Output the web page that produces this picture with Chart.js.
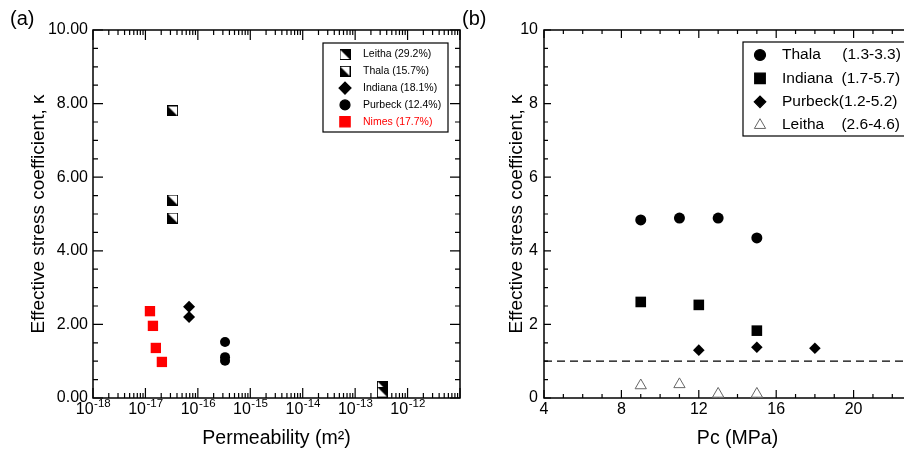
<!DOCTYPE html>
<html><head><meta charset="utf-8">
<script src="https://cdn.jsdelivr.net/npm/chart.js@4/dist/chart.umd.min.js"></script>
<style>
html,body{margin:0;padding:0;background:#fff;overflow:hidden;}
#wrap{position:relative;width:904px;height:454px;overflow:hidden;}
canvas{position:absolute;left:0;top:0;}
</style></head><body>
<div id="wrap"><canvas id="ca" width="904" height="454"></canvas><canvas id="cb" width="940" height="454"></canvas></div>
<script>
// ---------- panel (a) data ----------
const permLeitha = [3.3e-13, 3.3e-13];
const kLeitha = [0.32, 0.16];
const permThala = [3.3e-17, 3.3e-17, 3.3e-17];
const kThala = [7.80, 5.38, 4.89];
const permIndiana = [6.8e-17, 6.8e-17];
const kIndiana = [2.48, 2.20];
const permPurbeck = [3.3e-16, 3.3e-16, 3.3e-16];
const kPurbeck = [1.52, 1.11, 1.01];
const permNimes = [1.22e-17, 1.39e-17, 1.58e-17, 2.06e-17];
const kNimes = [2.36, 1.96, 1.36, 0.98];
const legendA = ['Leitha (29.2%)', 'Thala (15.7%)', 'Indiana (18.1%)', 'Purbeck (12.4%)', 'Nimes (17.7%)'];
const xExpA = [-18, -17, -16, -15, -14, -13, -12];
const yTicksA = [0, 2, 4, 6, 8, 10];

// ---------- panel (b) data ----------
const pcThala = [9, 11, 13, 15];
const kThalaB = [4.84, 4.89, 4.89, 4.35];
const pcIndiana = [9, 12, 15];
const kIndianaB = [2.61, 2.53, 1.83];
const pcPurbeck = [12, 15, 18];
const kPurbeckB = [1.30, 1.38, 1.35];
const pcLeitha = [9, 11, 13, 15];
const kLeithaB = [0.34, 0.37, 0.11, 0.11];
const legendB = ['Thala     (1.3-3.3)', 'Indiana  (1.7-5.7)', 'Purbeck(1.2-5.2)', 'Leitha    (2.6-4.6)'];
const refPc = [4, 24];
const refK = [1, 1];
const xTicksB = [4, 8, 12, 16, 20];
const yTicksB = [0, 2, 4, 6, 8, 10];

const FONT = '"Liberation Sans", Arial, Helvetica, sans-serif';
Chart.defaults.font.family = FONT;
Chart.defaults.color = '#000';

function pts(xs, ys) { return xs.map((v, i) => ({x: v, y: ys[i]})); }

function halfSquare(kind) {
  const s = 11, c = document.createElement('canvas');
  c.width = s; c.height = s;
  const g = c.getContext('2d');
  g.fillStyle = '#fff'; g.fillRect(0, 0, s, s);
  g.fillStyle = '#000'; g.beginPath();
  if (kind === 'ur') { g.moveTo(0, 0); g.lineTo(s, 0); g.lineTo(s, s); }
  else { g.moveTo(0, 0); g.lineTo(s, s); g.lineTo(0, s); }
  g.closePath(); g.fill();
  g.strokeStyle = '#000'; g.lineWidth = 1; g.strokeRect(0.5, 0.5, s - 1, s - 1);
  return c;
}
const imgLeitha = halfSquare('ur');
const imgThala = halfSquare('ll');

function drawMarker(ctx, ds, x, y) {
  ctx.save();
  ctx.fillStyle = ds.pointBackgroundColor || ds.backgroundColor || '#000';
  ctx.strokeStyle = ds.pointBorderColor || ds.borderColor || '#000';
  ctx.lineWidth = ds.pointBorderWidth !== undefined ? ds.pointBorderWidth : 1;
  const opts = {pointStyle: ds.pointStyle, radius: ds.pointRadius, rotation: 0, borderWidth: ctx.lineWidth};
  Chart.helpers.drawPoint(ctx, opts, x, y);
  ctx.restore();
}

const frameTicks = {
  id: 'frameTicks',
  beforeDatasetsDraw(chart, args, o) {
    const {ctx, chartArea: a, scales: {x, y}} = chart;
    ctx.save();
    ctx.strokeStyle = '#000';
    ctx.lineWidth = 1.2;
    ctx.beginPath();
    const tx = (v, len) => { const p = x.getPixelForValue(v); ctx.moveTo(p, a.bottom); ctx.lineTo(p, a.bottom - len); ctx.moveTo(p, a.top); ctx.lineTo(p, a.top + len); };
    const ty = (v, len) => { const p = y.getPixelForValue(v); ctx.moveTo(a.left, p); ctx.lineTo(a.left + len, p); ctx.moveTo(a.right, p); ctx.lineTo(a.right - len, p); };
    o.xMajor.forEach(v => tx(v, o.xMajLen));
    o.xMinor.forEach(v => tx(v, o.xMinLen));
    o.yMajor.forEach(v => ty(v, o.yMajLen));
    o.yMinor.forEach(v => ty(v, o.yMinLen));
    ctx.stroke();
    ctx.lineWidth = 1.5;
    ctx.strokeRect(a.left, a.top, a.right - a.left, a.bottom - a.top);
    ctx.restore();
  }
};

const boxLegend = {
  id: 'boxLegend',
  afterDatasetsDraw(chart, args, o) {
    const ctx = chart.ctx;
    ctx.save();
    ctx.fillStyle = '#fff';
    ctx.fillRect(o.box[0], o.box[1], o.box[2], o.box[3]);
    ctx.strokeStyle = '#000'; ctx.lineWidth = 1.2;
    ctx.strokeRect(o.box[0], o.box[1], o.box[2], o.box[3]);
    ctx.font = o.font; ctx.textBaseline = 'middle'; ctx.textAlign = 'left';
    o.items.forEach((di, i) => {
      const ds = chart.data.datasets[di];
      const yy = o.y0 + i * o.dy;
      drawMarker(ctx, ds, o.mx, yy);
      ctx.fillStyle = ds.labelColor || '#000';
      ctx.fillText(ds.label, o.tx, yy);
    });
    ctx.restore();
  }
};

const extraText = {
  id: 'extraText',
  afterDraw(chart, args, o) {
    const ctx = chart.ctx;
    ctx.save();
    ctx.fillStyle = '#000';
    ctx.textBaseline = 'middle'; ctx.textAlign = 'left';
    ctx.font = '20px ' + FONT;
    ctx.fillText(o.panel, o.px, o.py);
    if (o.expTicks) {
      const sx = chart.scales.x;
      ctx.textBaseline = 'alphabetic';
      o.expTicks.forEach(e => {
        const p = sx.getPixelForValue(Math.pow(10, e));
        ctx.font = '16px ' + FONT;
        const wb = ctx.measureText('10').width;
        ctx.font = '11.5px ' + FONT;
        const we = ctx.measureText(String(e)).width;
        const start = p - (wb + we) / 2;
        ctx.font = '16px ' + FONT;
        ctx.fillText('10', start, 413.5);
        ctx.font = '11.5px ' + FONT;
        ctx.fillText(String(e), start + wb + 0.5, 407);
      });
    }
    ctx.restore();
  }
};

// tick positions
const xMinorA = [];
xExpA.forEach(e => { for (let k = 2; k <= 9; k++) xMinorA.push(k * Math.pow(10, e)); });
const yMinorA = [];
for (let v = 0.5; v < 10; v += 1) yMinorA.push(v);
for (let v = 1; v < 10; v += 2) yMinorA.push(v);
const xMinorB = [];
for (let v = 5; v <= 23; v++) if (v % 4 !== 0) xMinorB.push(v);
const yMinorB = yMinorA.slice();

const titleY = 'Effective stress coefficient, \u03BA';

new Chart(document.getElementById('ca'), {
  type: 'scatter',
  data: {datasets: [
    {label: legendA[0], data: pts(permLeitha, kLeitha), pointStyle: imgLeitha, pointRadius: 6},
    {label: legendA[1], data: pts(permThala, kThala), pointStyle: imgThala, pointRadius: 6},
    {label: legendA[2], data: pts(permIndiana, kIndiana), pointStyle: 'rectRot', pointRadius: 6, backgroundColor: '#000', borderColor: '#000', pointBorderWidth: 0},
    {label: legendA[3], data: pts(permPurbeck, kPurbeck), pointStyle: 'circle', pointRadius: 5, backgroundColor: '#000', borderColor: '#000', pointBorderWidth: 0},
    {label: legendA[4], data: pts(permNimes, kNimes), pointStyle: 'rect', pointRadius: 7.3, backgroundColor: '#ff0000', borderColor: '#ff0000', pointBorderWidth: 0, labelColor: '#ff0000'}
  ]},
  options: {
    responsive: false, animation: false, devicePixelRatio: 1,
    layout: {padding: {left: 0, right: 444, top: 30, bottom: 0}},
    plugins: {
      legend: {display: false}, tooltip: {enabled: false},
      frameTicks: {xMajor: xExpA.concat([-11]).map(e => Math.pow(10, e)), xMinor: xMinorA, yMajor: yTicksA, yMinor: yMinorA, xMajLen: 10, xMinLen: 5, yMajLen: 10, yMinLen: 5},
      boxLegend: {box: [323, 43, 125, 89], items: [0, 1, 2, 3, 4], y0: 54.5, dy: 16.8, mx: 345, tx: 363, font: '10.5px ' + FONT},
      extraText: {panel: '(a)', px: 10, py: 19, expTicks: xExpA}
    },
    scales: {
      x: {type: 'logarithmic', min: 1e-18, max: 1e-11,
          grid: {display: false, drawTicks: false}, border: {display: false},
          ticks: {display: false},
          afterBuildTicks: s => { s.ticks = xExpA.map(e => ({value: Math.pow(10, e)})); },
          afterFit: s => { s.height = 56; },
          title: {display: true, text: 'Permeability (m\u00B2)', font: {size: 19.5}, padding: {top: 0, bottom: 4}}},
      y: {type: 'linear', min: 0, max: 10,
          grid: {display: false, drawTicks: false}, border: {display: false},
          ticks: {padding: 5, font: {size: 16}, callback: v => Number(v).toFixed(2)},
          afterBuildTicks: s => { s.ticks = yTicksA.map(v => ({value: v})); },
          afterFit: s => { s.width = 93; },
          title: {display: true, text: titleY, font: {size: 19}, padding: {top: 27, bottom: 0}}}
    }
  },
  plugins: [frameTicks, boxLegend, extraText]
});

new Chart(document.getElementById('cb'), {
  type: 'scatter',
  data: {datasets: [
    {label: legendB[0], data: pts(pcThala, kThalaB), pointStyle: 'circle', pointRadius: 5.5, backgroundColor: '#000', borderColor: '#000', pointBorderWidth: 0},
    {label: legendB[1], data: pts(pcIndiana, kIndianaB), pointStyle: 'rect', pointRadius: 7.5, backgroundColor: '#000', borderColor: '#000', pointBorderWidth: 0},
    {label: legendB[2], data: pts(pcPurbeck, kPurbeckB), pointStyle: 'rectRot', pointRadius: 5.8, backgroundColor: '#000', borderColor: '#000', pointBorderWidth: 0},
    {label: legendB[3], data: pts(pcLeitha, kLeithaB), pointStyle: 'triangle', pointRadius: 6.5, backgroundColor: '#fff', borderColor: '#666', pointBorderWidth: 1},
    {label: 'kappa = 1', data: pts(refPc, refK), showLine: true, pointRadius: 0, borderColor: '#000', borderWidth: 1.2, borderDash: [8, 5]}
  ]},
  options: {
    responsive: false, animation: false, devicePixelRatio: 1,
    layout: {padding: {left: 444, right: 9, top: 30, bottom: 0}},
    plugins: {
      legend: {display: false}, tooltip: {enabled: false},
      frameTicks: {xMajor: xTicksB.concat([24]), xMinor: xMinorB, yMajor: yTicksB, yMinor: yMinorB, xMajLen: 8, xMinLen: 4, yMajLen: 7, yMinLen: 4},
      boxLegend: {box: [743, 42, 180, 94], items: [0, 1, 2, 3], y0: 55, dy: 23.4, mx: 760, tx: 782, font: '15.5px ' + FONT},
      extraText: {panel: '(b)', px: 462, py: 19}
    },
    scales: {
      x: {type: 'linear', min: 4, max: 24,
          grid: {display: false, drawTicks: false}, border: {display: false},
          ticks: {padding: 2, font: {size: 16}},
          afterBuildTicks: s => { s.ticks = xTicksB.map(v => ({value: v})); },
          afterFit: s => { s.height = 56; },
          title: {display: true, text: 'Pc (MPa)', font: {size: 19.5}, padding: {top: 0, bottom: 4}}},
      y: {type: 'linear', min: 0, max: 10,
          grid: {display: false, drawTicks: false}, border: {display: false},
          ticks: {padding: 6, font: {size: 16}},
          afterBuildTicks: s => { s.ticks = yTicksB.map(v => ({value: v})); },
          afterFit: s => { s.width = 100; },
          title: {display: true, text: titleY, font: {size: 19}, padding: {top: 61.5, bottom: 0}}}
    }
  },
  plugins: [frameTicks, boxLegend, extraText]
});
</script>
</body></html>
